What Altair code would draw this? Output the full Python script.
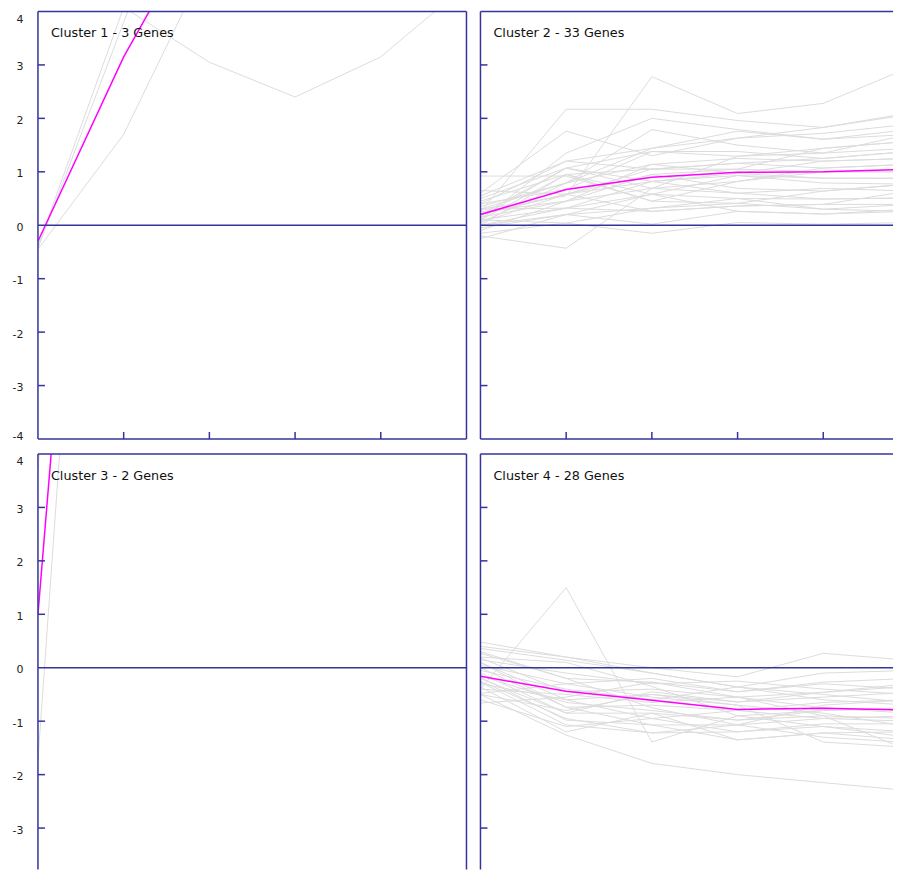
import altair as alt
import pandas as pd

# ---------------- data ----------------
TIMES = [0, 1, 2, 3, 4, 5]
TITLES = ["Cluster 1 - 3 Genes", "Cluster 2 - 33 Genes", "Cluster 3 - 2 Genes", "Cluster 4 - 28 Genes"]

C1_GENES = [
    [-0.40, 4.08, 3.05, 2.40, 3.15, 4.50],
    [-0.43, 3.80, 8.00, 9.50, 9.00, 9.00],
    [-0.45, 1.70, 5.00, 6.50, 6.00, 6.50],
]
C1_MEAN = [-0.30, 3.15, 6.00, 6.10, 6.10, 6.70]

C2_GENES = [
    [0.30, 0.55, 2.78, 2.09, 2.28, 2.95],
    [0.25, 2.17, 2.17, 1.96, 1.83, 2.10],
    [0.60, 1.76, 1.30, 1.63, 1.72, 1.89],
    [0.92, 0.92, 0.45, 0.41, 0.30, 0.26],
    [-0.20, -0.43, 0.69, 1.29, 1.44, 1.57],
    [0.10, 1.35, 2.00, 1.79, 1.61, 1.79],
    [0.05, 0.79, 1.79, 1.50, 1.35, 1.44],
    [0.40, 1.20, 1.44, 1.76, 1.61, 1.70],
    [0.15, 1.07, 1.38, 1.38, 1.25, 1.38],
    [-0.10, 0.45, 1.14, 1.25, 1.20, 1.25],
    [0.00, 0.95, 1.05, 1.16, 1.07, 1.14],
    [0.20, 0.58, 0.95, 1.05, 1.00, 1.00],
    [0.30, 0.32, 0.82, 0.97, 0.88, 0.88],
    [-0.05, 0.20, 0.58, 0.93, 0.79, 0.77],
    [0.50, 1.07, 0.69, 0.60, 0.69, 0.64],
    [0.10, 0.04, 0.32, 0.50, 0.49, 0.51],
    [0.20, 0.58, 0.26, 0.36, 0.39, 0.39],
    [0.00, 0.20, 0.02, 0.26, 0.21, 0.26],
    [-0.15, 0.04, -0.15, 0.05, 0.02, 0.05],
    [0.35, 0.79, 1.44, 1.63, 1.83, 2.07],
    [0.45, 0.95, 0.45, 0.82, 1.07, 1.14],
    [0.25, 0.45, 0.95, 0.69, 0.64, 0.77],
    [0.10, 0.32, 0.58, 0.50, 0.30, 0.39],
    [0.55, 1.20, 1.05, 1.16, 1.25, 1.38],
    [0.05, 0.58, 0.82, 0.60, 0.49, 0.51],
    [-0.25, 0.20, 0.32, 0.41, 0.64, 0.77],
    [0.30, 0.79, 1.14, 0.97, 1.20, 1.25],
    [0.15, 0.45, 0.69, 0.82, 1.00, 1.00],
    [0.40, 0.67, 1.38, 1.29, 1.35, 1.70],
    [0.00, 0.32, 0.26, 0.36, 0.39, 0.64],
    [0.20, 1.07, 0.82, 0.93, 0.88, 0.88],
    [0.65, 0.58, 1.05, 1.05, 1.44, 1.57],
    [0.10, 0.95, 0.58, 0.26, 0.21, 0.30],
]
C2_MEAN = [0.20, 0.67, 0.90, 0.99, 1.00, 1.05]

C3_GENES = [
    [-1.73, 21.0, 18.0, 17.0, 16.0, 15.0],
    [3.73, 20.0, 17.0, 16.0, 15.0, 14.0],
]
C3_MEAN = [1.00, 20.5, 17.5, 16.5, 15.5, 14.5]

C4_GENES = [
    [-0.40, 1.50, -1.39, -0.90, -0.80, -0.75],
    [-0.50, -1.26, -1.79, -2.00, -2.15, -2.30],
    [0.48, 0.20, 0.00, -0.17, 0.27, 0.14],
    [0.36, 0.14, -0.10, -0.36, -0.10, -0.05],
    [0.27, -0.20, -0.27, -0.45, -0.27, -0.20],
    [0.18, -0.45, -0.40, -0.55, -0.46, -0.35],
    [0.10, -0.60, -0.50, -0.64, -0.55, -0.46],
    [0.00, -0.74, -0.70, -0.80, -0.65, -0.60],
    [-0.10, -0.85, -0.85, -0.98, -0.80, -0.75],
    [-0.18, -0.98, -1.07, -1.07, -0.95, -0.90],
    [-0.27, -1.07, -1.22, -1.20, -1.05, -1.05],
    [-0.36, -1.20, -0.85, -1.35, -1.22, -1.20],
    [-0.48, -0.30, -0.55, -0.70, -1.39, -1.49],
    [-0.66, -0.55, -0.27, -0.55, -0.90, -1.55],
    [0.20, 0.10, -0.35, -0.90, -1.10, -1.30],
    [-0.05, -0.40, -0.60, -0.36, -0.60, -0.70],
    [0.30, -0.20, -0.75, -1.07, -0.70, -0.60],
    [-0.20, -0.85, -0.45, -0.64, -0.46, -0.30],
    [-0.30, -0.60, -0.95, -0.80, -0.95, -1.00],
    [0.05, -0.30, -0.20, -0.45, -0.30, -0.40],
    [-0.60, -1.10, -0.95, -1.20, -1.10, -1.20],
    [0.10, -0.74, -1.07, -1.35, -1.22, -1.35],
    [-0.40, -0.50, -0.65, -0.55, -0.75, -0.85],
    [0.15, -0.10, -0.30, -0.25, -0.40, -0.50],
    [-0.15, -0.65, -0.80, -0.98, -0.90, -0.95],
    [-0.25, -0.95, -1.22, -1.07, -1.30, -1.40],
    [0.40, 0.20, -0.10, -0.36, -0.50, -0.65],
    [-0.50, -0.80, -0.50, -0.70, -0.85, -1.10],
]
C4_MEAN = [-0.16, -0.44, -0.61, -0.78, -0.76, -0.79]

Y_TICKS = [-3, -2, -1, 1, 2, 3]
Y_LABELS = [-4, -3, -2, -1, 0, 1, 2, 3, 4]
X_TICKS = [1, 2, 3, 4]
ZERO = [0]

# ---------------- style / geometry ----------------
NAVY = "#34349a"
GRAY = "#dcdcdc"
MAGENTA = "#ff00ff"
PX_PER_X = 85.8     # pixels per time step
PX_PER_Y = 53.5     # pixels per unit
W_L, W_R = 429, 413
H_T, H_B = 428, 416


def panel(title, genes, mean, width, height, left, top):
    xmax = width / PX_PER_X
    ymin = 4 - height / PX_PER_Y
    xscale = alt.Scale(domain=[0, xmax], nice=False, zero=False)
    yscale = alt.Scale(domain=[ymin, 4], nice=False, zero=False)

    rows = []
    for gi, g in enumerate(genes):
        for t, v in zip(TIMES, g):
            rows.append({"gene": gi, "t": t, "v": v})
    gdf = pd.DataFrame(rows)
    mdf = pd.DataFrame({"t": TIMES, "v": mean})

    if left:
        yax = alt.Axis(values=[v for v in Y_LABELS if v >= ymin - 1e-9], ticks=False, domain=False,
                       grid=False, labelPadding=15, labelFont="DejaVu Sans", labelFontSize=11,
                       labelColor="#222222", minExtent=26, maxExtent=26,
                       labelFlush=True, labelOffset=2, title=None,
                       labelExpr="datum.value < 0 ? '-' + abs(datum.value) : '' + datum.value")
    else:
        yax = None

    def X(field="t"):
        return alt.X(f"{field}:Q", scale=xscale, axis=None)

    def Y(field="v"):
        return alt.Y(f"{field}:Q", scale=yscale, axis=yax)

    rule = dict(color=NAVY, strokeWidth=1.5)
    layers = [
        alt.Chart(gdf).mark_line(color=GRAY, strokeWidth=1, clip=True).encode(
            x=X(), y=Y(), detail="gene:N", order="t:Q"),
        alt.Chart(mdf).mark_line(color=MAGENTA, strokeWidth=1.5, clip=True).encode(
            x=X(), y=Y(), order="t:Q"),
        alt.Chart(pd.DataFrame({"v": ZERO})).mark_rule(**rule).encode(y=Y()),
        alt.Chart(pd.DataFrame({"v": Y_TICKS})).mark_rule(**rule).encode(
            y=Y(), x=alt.value(0), x2=alt.value(7)),
        # frame: left and top edges
        alt.Chart(pd.DataFrame({"t": [0]})).mark_rule(**rule).encode(x=X()),
        alt.Chart(pd.DataFrame({"v": [4]})).mark_rule(**rule).encode(y=Y()),
    ]
    if xmax >= 5:
        layers.append(alt.Chart(pd.DataFrame({"t": [5]})).mark_rule(**rule).encode(x=X()))
    if top:
        layers.append(alt.Chart(pd.DataFrame({"v": [-4]})).mark_rule(**rule).encode(y=Y()))
        layers.append(alt.Chart(pd.DataFrame({"t": X_TICKS})).mark_rule(**rule).encode(
            x=X(), y=alt.value(height - 7), y2=alt.value(height)))
    layers.append(
        alt.Chart(pd.DataFrame({"label": [title]})).mark_text(
            align="left", baseline="alphabetic", font="DejaVu Sans", fontSize=12.8, color="#111111"
        ).encode(x=alt.value(13), y=alt.value(26), text="label:N"))

    return alt.layer(*layers).properties(width=width, height=height)


p1 = panel(TITLES[0], C1_GENES, C1_MEAN, W_L, H_T, True, True)
p2 = panel(TITLES[1], C2_GENES, C2_MEAN, W_R, H_T, False, True)
p3 = panel(TITLES[2], C3_GENES, C3_MEAN, W_L, H_B, True, False)
p4 = panel(TITLES[3], C4_GENES, C4_MEAN, W_R, H_B, False, False)

chart = alt.concat(
    p1, p2, p3, p4, columns=2,
    spacing=alt.RowColnumber(row=15, column=14), bounds="flush",
).properties(
    padding={"left": 4, "top": 2, "right": 0, "bottom": 0},
    background="white",
).configure_view(
    stroke=None
)

chart.save("out.html", embed_options={"renderer": "svg", "actions": False})
